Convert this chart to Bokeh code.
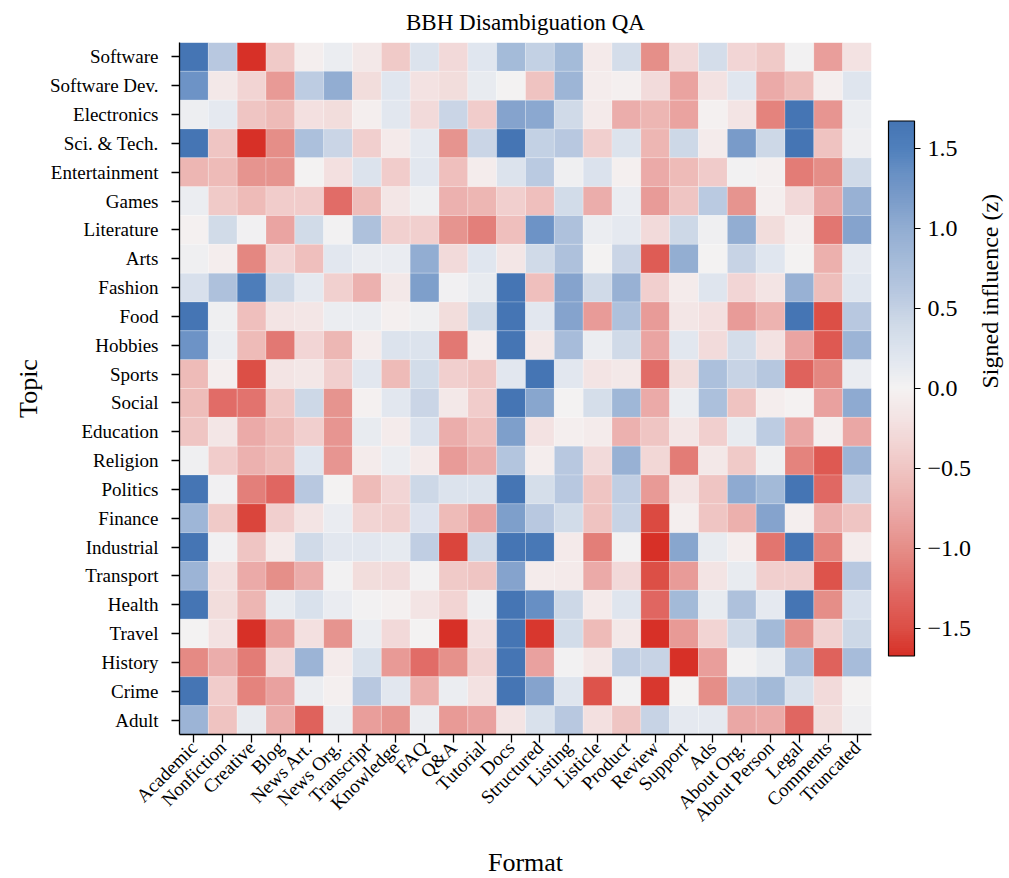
import math
import numpy as np
from bokeh.plotting import figure
from bokeh.models import (ColumnDataSource, LinearColorMapper, ColorBar, FixedTicker,
                          CustomJSTickFormatter, CategoricalAxis, Title)
from bokeh.embed import file_html
from bokeh.resources import INLINE

FONT = "Liberation Serif"

formats = ["Academic", "Nonfiction", "Creative", "Blog", "News Art.", "News Org.",
           "Transcript", "Knowledge", "FAQ", "Q&A", "Tutorial", "Docs", "Structured",
           "Listing", "Listicle", "Product", "Review", "Support", "Ads", "About Org.",
           "About Person", "Legal", "Comments", "Truncated"]

topics = ["Software", "Software Dev.", "Electronics", "Sci. & Tech.", "Entertainment",
          "Games", "Literature", "Arts", "Fashion", "Food", "Hobbies", "Sports", "Social",
          "Education", "Religion", "Politics", "Finance", "Industrial", "Transport",
          "Health", "Travel", "History", "Crime", "Adult"]

software = [1.7, 0.6, -1.7, -0.45, -0.05, 0.08, -0.12, -0.45, 0.25, -0.3, 0.2, 0.8,
            0.5, 0.8, -0.1, 0.35, -0.98, -0.3, 0.35, -0.33, -0.45, 0.02, -0.85, -0.2]
software_dev = [1.3, -0.12, -0.35, -0.9, 0.55, 1.0, -0.25, 0.2, -0.2, -0.25, 0.12, 0.0,
                -0.52, 0.88, -0.07, -0.03, -0.27, -0.82, -0.2, 0.2, -0.75, -0.58, -0.04, 0.22]
electronics = [0.07, 0.15, -0.5, -0.6, -0.22, -0.25, -0.05, 0.17, -0.28, 0.45, -0.42, 1.1,
               1.05, 0.4, -0.1, -0.73, -0.65, -0.82, -0.02, -0.18, -1.08, 1.7, -0.93, 0.08]
sci_tech = [1.7, -0.5, -1.7, -1.0, 0.72, 0.45, -0.4, -0.1, 0.15, -0.95, 0.45, 1.7,
            0.5, 0.6, -0.4, 0.25, -0.65, 0.43, -0.08, 1.2, 0.43, 1.7, -0.52, 0.06]
entertainment = [-0.65, -0.6, -0.95, -0.95, 0.0, -0.22, 0.25, -0.42, 0.18, -0.55, -0.07, 0.25,
                 0.58, 0.04, 0.27, -0.03, -0.75, -0.6, -0.44, 0.02, -0.03, -1.13, -1.0, 0.4]
games = [0.08, -0.45, -0.6, -0.42, -0.42, -1.25, -0.58, -0.15, 0.04, -0.68, -0.65, -0.4,
         -0.55, 0.37, -0.72, 0.1, -0.88, -0.5, 0.58, -0.95, -0.04, -0.3, -0.78, 0.93]
literature = [-0.02, 0.38, 0.03, -0.8, 0.38, 0.02, 0.7, -0.38, -0.4, -0.95, -1.1, -0.55,
              1.3, 0.7, 0.08, 0.15, -0.28, 0.42, 0.04, 1.0, -0.25, -0.04, -1.17, 1.1]
arts = [0.05, -0.06, -1.05, -0.33, -0.55, 0.18, 0.1, 0.1, 1.0, -0.28, 0.2, -0.15,
        0.4, 0.7, 0.0, 0.45, -1.38, 0.98, 0.0, 0.47, 0.2, 0.0, -0.7, 0.15]
fashion = [0.3, 0.7, 1.55, 0.43, 0.15, -0.38, -0.68, -0.12, 1.15, 0.03, 0.12, 1.7,
           -0.55, 1.1, 0.4, 0.93, -0.4, -0.08, 0.22, -0.33, -0.18, 0.93, -0.57, 0.2]
food = [1.7, 0.04, -0.55, -0.18, -0.15, 0.08, 0.08, -0.03, 0.05, -0.25, 0.38, 1.7,
        0.18, 1.1, -0.88, 0.7, -0.88, -0.15, -0.22, -0.88, -0.67, 1.7, -1.5, 0.6]
hobbies = [1.3, 0.08, -0.6, -1.15, -0.33, -0.63, -0.07, 0.25, 0.25, -1.15, -0.06, 1.7,
           -0.13, 0.78, 0.08, 0.4, -0.8, 0.18, -0.27, 0.35, -0.2, -0.8, -1.4, 0.9]
sports = [-0.6, -0.04, -1.5, -0.18, -0.14, -0.4, 0.18, -0.6, 0.37, -0.4, -0.47, 0.17,
          1.68, 0.18, -0.18, -0.12, -1.25, -0.25, 0.72, 0.48, 0.62, -1.33, -1.05, 0.1]
social = [-0.58, -1.25, -1.2, -0.47, 0.42, -0.95, -0.02, 0.18, 0.45, -0.13, -0.43, 1.7,
          1.08, 0.0, 0.33, 0.85, -0.75, 0.08, 0.72, -0.52, -0.06, -0.01, -0.83, 1.02]
education = [-0.5, -0.15, -0.75, -0.6, -0.4, -0.93, 0.12, -0.08, 0.27, -0.72, -0.55, 1.15,
             -0.2, -0.05, -0.08, -0.68, -0.5, -0.15, -0.4, 0.12, 0.55, -0.78, -0.04, -0.78]
religion = [0.05, -0.42, -0.68, -0.58, 0.2, -0.93, -0.08, 0.08, -0.1, -0.88, -0.72, 0.65,
            -0.06, 0.6, -0.28, 0.93, -0.32, -1.13, -0.13, -0.45, 0.04, -1.07, -1.4, 0.9]
politics = [1.7, 0.03, -1.1, -1.28, 0.6, 0.0, -0.6, -0.33, 0.43, 0.25, 0.25, 1.7,
            0.33, 0.6, -0.5, 0.53, -0.9, -0.18, -0.5, 1.03, 0.82, 1.7, -1.27, 0.45]
finance = [0.87, -0.45, -1.55, -0.4, -0.18, 0.1, -0.35, -0.38, 0.24, -0.6, -0.8, 1.15,
           0.6, 0.37, -0.52, 0.47, -1.52, -0.04, -0.5, -0.7, 1.1, -0.04, -0.68, -0.5]
industrial = [1.7, 0.03, -0.5, -0.1, 0.4, 0.18, 0.17, 0.14, 0.53, -1.55, 0.4, 1.7,
              1.62, -0.1, -1.12, 0.02, -1.7, 1.08, 0.12, -0.06, -1.18, 1.7, -1.08, -0.08]
transport = [0.9, -0.22, -0.75, -0.98, -0.72, 0.02, -0.25, -0.27, 0.02, -0.45, -0.5, 1.1,
             -0.08, -0.1, -0.75, -0.3, -1.5, -0.88, -0.18, 0.12, -0.4, -0.4, -1.45, 0.6]
health = [1.7, -0.25, -0.65, 0.12, 0.28, 0.1, 0.02, -0.02, -0.18, -0.35, 0.05, 1.7,
          1.35, 0.43, -0.1, 0.22, -1.28, 0.82, 0.12, 0.7, 0.15, 1.7, -1.0, 0.3]
travel = [0.0, -0.2, -1.7, -0.9, -0.22, -0.95, 0.08, -0.3, 0.0, -1.7, -0.22, 1.7,
          -1.63, 0.37, -0.6, -0.12, -1.7, -0.9, -0.35, 0.4, 0.82, -0.97, -0.37, 0.43]
history = [-1.03, -0.73, -1.13, -0.3, 0.9, -0.08, 0.28, -0.9, -1.25, -0.97, -0.35, 1.7,
           -0.83, 0.02, -0.12, 0.53, 0.47, -1.7, -0.86, 0.02, 0.12, 0.73, -1.33, 0.77]
crime = [1.7, -0.43, -1.07, -0.83, 0.08, -0.03, 0.6, 0.17, -0.7, 0.08, -0.2, 1.7,
         1.1, 0.22, -1.45, 0.02, -1.62, 0.0, -1.0, 0.65, 0.82, 0.28, -0.28, 0.0]
adult = [0.9, -0.52, 0.13, -0.73, -1.32, 0.08, -0.85, -0.95, 0.08, -0.9, -0.83, -0.18,
         0.28, 0.6, -0.22, -0.5, 0.48, 0.15, 0.15, -0.78, -0.75, -1.28, -0.25, 0.04]

rows = [software, software_dev, electronics, sci_tech, entertainment, games, literature,
        arts, fashion, food, hobbies, sports, social, education, religion, politics,
        finance, industrial, transport, health, travel, history, crime, adult]

colorbar_ticks = [-1.5, -1.0, -0.5, 0.0, 0.5, 1.0, 1.5]
vmin, vmax = -1.67, 1.67

# diverging palette (red - light - blue)
stops = [(-1.67, "#D73027"), (-1.50, "#DC4F46"), (-1.30, "#E06560"), (-1.00, "#E58E88"),
         (-0.80, "#EAA5A3"), (-0.60, "#EEBBB8"), (-0.40, "#F1CFCE"), (-0.20, "#F3E2E2"),
         (0.00, "#F4F2F2"), (0.20, "#E0E6EF"), (0.40, "#D0DAE8"), (0.60, "#B8C8E0"),
         (0.80, "#A5BBD9"), (1.00, "#92ADD2"), (1.20, "#799BC9"), (1.35, "#6890C4"),
         (1.50, "#5080BC"), (1.67, "#4575B4")]
sv = np.array([s[0] for s in stops])
sc = np.array([[int(s[1][i:i + 2], 16) for i in (1, 3, 5)] for s in stops], dtype=float)
grid = np.linspace(vmin, vmax, 256)
palette = []
for g in grid:
    rgb = [int(round(np.interp(g, sv, sc[:, k]))) for k in range(3)]
    palette.append("#%02x%02x%02x" % tuple(rgb))

xs, ys, vs = [], [], []
for t, row in zip(topics, rows):
    for f, v in zip(formats, row):
        xs.append(f)
        ys.append(t)
        vs.append(v)
src = ColumnDataSource(dict(x=xs, y=ys, v=vs))

mapper = LinearColorMapper(palette=palette, low=vmin, high=vmax)

p = figure(x_range=formats, y_range=topics[::-1], frame_width=692, frame_height=692,
           min_border_left=179, min_border_top=42, min_border_right=10, min_border_bottom=120,
           output_backend="svg", toolbar_location=None)

p.rect(x="x", y="y", width=1, height=1, source=src,
       fill_color={"field": "v", "transform": mapper},
       line_color="white", line_alpha=0.35, line_width=0.6)

p.title.text = "BBH Disambiguation QA"
p.title.align = "center"
p.title.text_font = FONT
p.title.text_font_size = "23px"
p.title.text_font_style = "normal"
p.title.text_color = "black"
p.title.standoff = 15

p.outline_line_color = None
p.grid.grid_line_color = None

for ax in (p.xaxis, p.yaxis):
    ax.axis_line_color = "black"
    ax.axis_line_width = 1.3
    ax.major_tick_line_color = "black"
    ax.major_tick_line_width = 1.3
    ax.major_tick_out = 8
    ax.major_tick_in = 0
    ax.minor_tick_line_color = None
    ax.major_label_text_font = FONT
    ax.major_label_text_font_size = "19px"
    ax.major_label_text_color = "black"
    ax.axis_label_text_font = FONT
    ax.axis_label_text_font_size = "26px"
    ax.axis_label_text_font_style = "normal"
    ax.axis_label_text_color = "black"

p.xaxis.axis_label = "Format"
p.yaxis.axis_label = "Topic"
p.xaxis.major_label_orientation = math.pi / 4
p.xaxis.major_label_standoff = 2
p.xaxis.axis_label_standoff = 12
p.yaxis.major_label_standoff = 13
p.yaxis.axis_label_standoff = 4

cb = ColorBar(color_mapper=mapper, width=26, height=535, location="center",
              ticker=FixedTicker(ticks=colorbar_ticks),
              formatter=CustomJSTickFormatter(code="return (tick < 0 ? '\\u2212' : '') + Math.abs(tick).toFixed(1);"),
              bar_line_color="black", bar_line_width=1.2,
              major_tick_line_color="black", major_tick_line_width=1.2,
              major_tick_out=6, major_tick_in=0, minor_tick_line_color=None,
              major_label_text_font=FONT, major_label_text_font_size="24px",
              major_label_text_color="black", label_standoff=7,
              background_fill_color=None, border_line_color=None,
              margin=0, padding=17)
p.add_layout(cb, "right")

cb_title_text = "Signed influence (z)"
if "axis_label_orientation" in CategoricalAxis.properties():
    # the rotated label starts at the middle of the axis bounds and reads upward,
    # so the bounds are set (in the categorical axis' own units) to centre it on the bar
    cb_axis = CategoricalAxis(ticker=FixedTicker(ticks=[]), bounds=(8.2, 9.2),
                              axis_line_color=None, major_tick_line_color=None,
                              minor_tick_line_color=None, major_tick_out=0, major_tick_in=0,
                              major_label_standoff=0,
                              axis_label=cb_title_text, axis_label_standoff=-2,
                              axis_label_text_font=FONT, axis_label_text_font_size="24px",
                              axis_label_text_font_style="normal",
                              axis_label_text_align="center",
                              axis_label_text_color="black")
    cb_axis.axis_label_orientation = math.pi / 2
    p.add_layout(cb_axis, "right")
else:
    p.add_layout(Title(text=cb_title_text, align="center", text_font=FONT,
                       text_font_size="24px", text_font_style="normal",
                       text_color="black", standoff=-8), "right")

open("out.html", "w", encoding="utf-8").write(file_html(p, INLINE))
